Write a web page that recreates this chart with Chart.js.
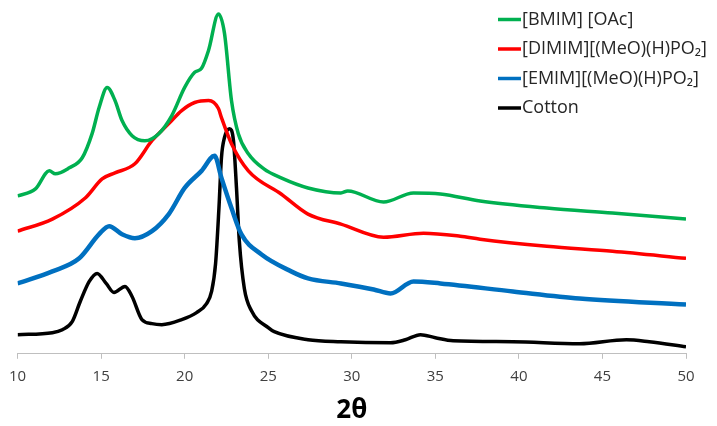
<!DOCTYPE html>
<html>
<head>
  <meta charset="UTF-8" />
  <title>XRD</title>
  <script src="https://cdn.jsdelivr.net/npm/chart.js"></script>
  <style>
    html, body { margin: 0; padding: 0; background: #fff; }
    #wrap { width: 717px; height: 426px; }
  </style>
</head>
<body>
  <div id="wrap"><canvas id="myChart" width="717" height="426"></canvas></div>

  <script>
    // series names and colours (legend order)
    const labels = ['[BMIM] [OAc]', '[DIMIM][(MeO)(H)PO₂]', '[EMIM][(MeO)(H)PO₂]', 'Cotton'];
    const colors = ['#00B050', '#FF0000', '#0070C0', '#000000'];

    // x tick labels
    const xTicks = [10, 15, 20, 25, 30, 35, 40, 45, 50];

    // values (2θ, offset intensity)
    const bmimX = [10, 11.07, 11.9, 12.26, 13.1, 13.87, 14.46, 14.88, 15.36, 15.83, 16.25, 16.85, 17.62, 18.45, 19.23, 20, 20.6, 21.01, 21.43, 22.02, 22.38, 22.8, 23.21, 23.81, 24.74, 25.77, 27.38, 29.35, 29.76, 31.9, 33.69, 35.3, 37.68, 41.67, 45.6, 50];
    const bmimY = [157, 164, 182, 179, 185, 195, 219, 245, 265, 252, 232, 217, 212, 219, 237, 265, 280, 284, 302, 338, 319, 252, 219, 199, 184, 175, 165, 160, 162, 151, 160, 159, 152, 145, 140, 134];

    const dimimX = [10, 12.08, 14.05, 15.06, 15.83, 17.02, 18.04, 19.05, 19.82, 20.6, 21.43, 22.02, 22.2, 22.8, 23.81, 25.77, 27.38, 29.35, 31.9, 34.29, 36.49, 37.68, 41.67, 45.6, 50];
    const dimimY = [122, 134, 155, 174, 180, 189, 212, 229, 242, 250, 252, 244, 235, 209, 182, 159, 139, 129, 116, 120, 117, 114, 107, 102, 95];

    const emimX = [10, 12.08, 13.69, 14.88, 15.48, 16.25, 17.02, 18.04, 19.05, 20, 21.01, 21.79, 22.2, 22.8, 23.39, 24.58, 26.37, 27.38, 29.35, 31.31, 32.32, 33.69, 35.3, 39.64, 43.63, 50];
    const emimY = [70, 82, 95, 119, 127, 119, 115, 122, 139, 165, 182, 197, 175, 145, 119, 99, 82, 75, 70, 64, 60, 72, 70, 62, 55, 49];

    const cottonX = [10, 12.08, 12.68, 13.27, 13.75, 14.29, 14.76, 15.3, 15.77, 16.43, 16.85, 17.44, 18.04, 18.63, 19.82, 20.71, 21.31, 21.61, 21.85, 22.05, 22.2, 22.38, 22.68, 22.92, 23.1, 23.27, 23.57, 23.99, 25, 25.36, 27.38, 29.35, 32.32, 33.21, 34.11, 35, 36.07, 39.64, 43.63, 46.43, 47.8, 50];
    const cottonY = [19, 21, 24, 32, 52, 72, 80, 70, 61, 67, 57, 34, 30, 29, 34, 41, 50, 62, 90, 145, 195, 215, 224, 212, 165, 112, 65, 43, 26, 22, 14, 12, 11, 14, 19, 16, 13, 12, 10, 14, 12, 7];

    const xs = [bmimX, dimimX, emimX, cottonX];
    const ys = [bmimY, dimimY, emimY, cottonY];

    const datasets = labels.map((label, i) => ({
      label: label,
      data: xs[i].map((x, j) => ({ x: x, y: ys[i][j] })),
      borderColor: colors[i],
      backgroundColor: colors[i],
      borderWidth: i === 2 ? 4.5 : 3.5,
      pointRadius: 0,
      fill: false,
      cubicInterpolationMode: 'monotone'
    }));

    // legend drawn inside the plot, top right
    const sideLegend = {
      id: 'sideLegend',
      afterDraw(chart) {
        const c = chart.ctx;
        c.save();
        c.font = '18px "Open Sans"';
        c.textBaseline = 'middle';
        labels.forEach((label, i) => {
          const y = 19.5 + i * 29.5;
          c.strokeStyle = colors[i];
          c.lineWidth = 3.5;
          c.beginPath();
          c.moveTo(498, y);
          c.lineTo(521, y);
          c.stroke();
          c.fillStyle = '#262626';
          c.fillText(label, 522, y);
        });
        c.restore();
      }
    };

    const ctx = document.getElementById('myChart').getContext('2d');
    new Chart(ctx, {
      type: 'line',
      data: { datasets: datasets },
      plugins: [sideLegend],
      options: {
        responsive: false,
        animation: false,
        layout: { padding: { left: 15, right: 31, top: 6, bottom: 0 } },
        plugins: {
          legend: { display: false },
          tooltip: { enabled: false }
        },
        scales: {
          x: {
            type: 'linear',
            min: 10,
            max: 50,
            afterBuildTicks: (axis) => { axis.ticks = xTicks.map(v => ({ value: v })); },
            grid: { drawOnChartArea: false, drawTicks: true, tickLength: 5, color: '#bfbfbf' },
            border: { color: '#bfbfbf' },
            ticks: {
              padding: 9,
              color: '#404040',
              font: { family: '"Open Sans"', size: 15 },
              maxRotation: 0
            },
            title: {
              display: true,
              text: '2θ',
              color: '#000',
              font: { family: '"Open Sans"', size: 26, weight: 'bold' },
              padding: { top: 0, bottom: 0 }
            }
          },
          y: {
            display: false,
            min: 0,
            max: 346
          }
        }
      }
    });
  </script>
</body>
</html>
